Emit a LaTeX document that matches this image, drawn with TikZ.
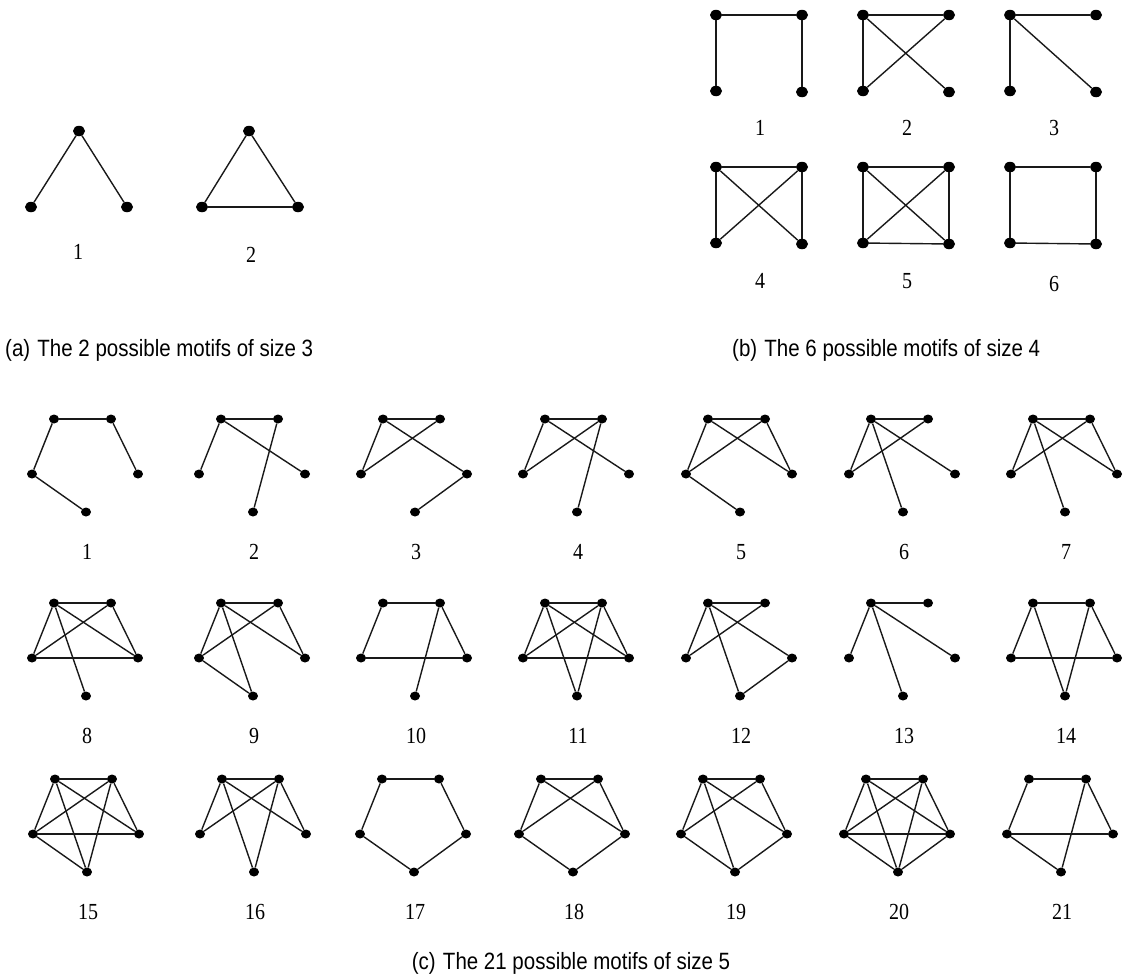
\documentclass[tikz,border=0pt]{standalone}
\usepackage{fontspec}
\setmainfont{Liberation Serif}
\setsansfont{Liberation Sans}
\usetikzlibrary{shapes.geometric}
\tikzset{
  dot/.style={ellipse,fill=black,inner sep=0pt,minimum width=10pt,minimum height=9pt},
  bigdot/.style={ellipse,fill=black,inner sep=0pt,minimum width=12pt,minimum height=10.5pt},
  edge/.style={line width=1.4pt,black!90},
  lab/.style={font=\fontsize{20}{24}\selectfont,inner sep=0pt},
  captxt/.style={font=\sffamily\fontsize{20.5}{24}\selectfont,inner sep=0pt},
}
\newcommand\vst[1]{\scalebox{1}[1.15]{#1}}
\newcommand\fivemotif[5]{%
  \node[dot] (#1a) at ({#2-32},{#3}) {};
  \node[dot] (#1b) at ({#2+25},{#3}) {};
  \node[dot] (#1c) at ({#2-54},{#3+55}) {};
  \node[dot] (#1d) at ({#2+52},{#3+55}) {};
  \node[dot] (#1e) at ({#2},{#3+93}) {};
  \node[lab] (#1l) at ({#2+1},{#3+133}) {\vst{#4}};
  \foreach \u/\v in {#5} {\draw[edge] (#1\u) -- (#1\v);}
}
\newcommand\fourmotif[6]{%
  \node[bigdot] (#1a) at ({#2},{#3}) {};
  \node[bigdot] (#1b) at ({#2+86},{#3}) {};
  \node[bigdot] (#1c) at ({#2},{#3+76}) {};
  \node[bigdot] (#1d) at ({#2+86},{#3+77}) {};
  \node[lab] (#1l) at ({#2+44},{#3+#6}) {\vst{#4}};
  \foreach \u/\v in {#5} {\draw[edge] (#1\u) -- (#1\v);}
}
\begin{document}
\begin{tikzpicture}[x=1pt,y=-1pt]
\useasboundingbox (0,0) rectangle (1129,977);
% ---- size 3 ----
\node[bigdot] (t1a) at (79,131) {};
\node[bigdot] (t1b) at (31,207) {};
\node[bigdot] (t1c) at (127,207) {};
\draw[edge] (t1a) -- (t1b);
\draw[edge] (t1a) -- (t1c);
\node[lab] (t1l) at (78,252) {\vst{1}};
\node[bigdot] (t2a) at (249,131) {};
\node[bigdot] (t2b) at (202,207) {};
\node[bigdot] (t2c) at (298,207) {};
\draw[edge] (t2a) -- (t2b);
\draw[edge] (t2a) -- (t2c);
\draw[edge] (t2b) -- (t2c);
\node[lab] (t2l) at (251,255) {\vst{2}};
\node[captxt,anchor=west] (capa) at (5,350) {\vst{(a)\hspace{0.35em}The 2 possible motifs of size 3}};
% ---- size 4 ----
\fourmotif{q1}{716}{15}{1}{a/b,a/c,b/d}{113}
\fourmotif{q2}{863}{15}{2}{a/b,a/c,a/d,c/b}{113}
\fourmotif{q3}{1010}{15}{3}{a/b,a/c,a/d}{113}
\fourmotif{q4}{716}{167}{4}{a/b,a/c,b/d,a/d,c/b}{114}
\fourmotif{q5}{863}{167}{5}{a/b,a/c,b/d,c/d,a/d,c/b}{114}
\fourmotif{q6}{1010}{167}{6}{a/b,b/d,d/c,c/a}{117}
\node[captxt,anchor=west] (capb) at (732,350) {\vst{(b)\hspace{0.35em}The 6 possible motifs of size 4}};
% ---- size 5 ----
\fivemotif{m1}{86}{419}{1}{a/b,a/c,b/d,c/e}
\fivemotif{m2}{253}{419}{2}{a/b,a/c,a/d,b/e}
\fivemotif{m3}{415}{419}{3}{a/b,a/c,c/b,a/d,d/e}
\fivemotif{m4}{577}{419}{4}{a/b,a/c,c/b,a/d,b/e}
\fivemotif{m5}{740}{419}{5}{a/b,a/c,c/b,a/d,b/d,c/e}
\fivemotif{m6}{903}{419}{6}{a/b,a/c,c/b,a/d,a/e}
\fivemotif{m7}{1065}{419}{7}{a/b,a/c,c/b,a/d,b/d,a/e}
\fivemotif{m8}{86}{603}{8}{a/b,a/c,c/b,a/d,b/d,c/d,a/e}
\fivemotif{m9}{253}{603}{9}{a/b,a/c,c/b,a/d,b/d,a/e,c/e}
\fivemotif{m10}{415}{603}{10}{a/b,a/c,c/d,b/d,b/e}
\fivemotif{m11}{577}{603}{11}{a/b,a/c,c/b,a/d,b/d,c/d,a/e,b/e}
\fivemotif{m12}{740}{603}{12}{a/b,a/c,c/b,a/d,a/e,d/e}
\fivemotif{m13}{903}{603}{13}{a/b,a/c,a/d,a/e}
\fivemotif{m14}{1065}{603}{14}{a/b,a/c,c/d,b/d,a/e,b/e}
\fivemotif{m15}{87}{779}{15}{a/b,a/c,c/b,a/d,b/d,c/d,a/e,b/e,c/e}
\fivemotif{m16}{254}{779}{16}{a/b,a/c,c/b,a/d,b/d,a/e,b/e}
\fivemotif{m17}{414}{779}{17}{a/b,a/c,b/d,c/e,d/e}
\fivemotif{m18}{573}{779}{18}{a/b,a/c,c/b,a/d,b/d,c/e,d/e}
\fivemotif{m19}{735}{779}{19}{a/b,a/c,c/b,a/d,b/d,c/e,d/e,a/e}
\fivemotif{m20}{898}{779}{20}{a/b,a/c,c/b,a/d,b/d,c/d,a/e,b/e,c/e,d/e}
\fivemotif{m21}{1061}{779}{21}{a/b,a/c,b/d,c/d,c/e,b/e}
\node[captxt] (capc) at (571,963) {\vst{(c)\hspace{0.35em}The 21 possible motifs of size 5}};
\end{tikzpicture}
\end{document}
